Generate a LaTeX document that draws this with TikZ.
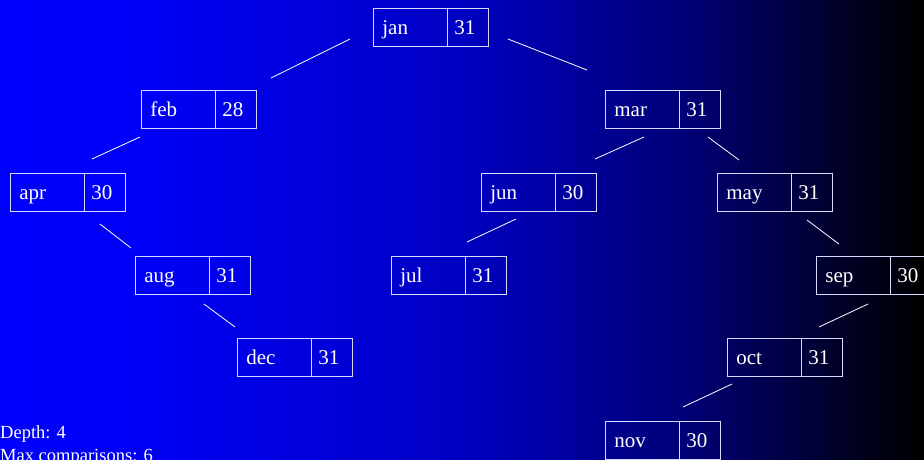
\documentclass[tikz,border=0pt]{standalone}
\usepackage{fontspec}
\setmainfont{Liberation Serif}

% Blue-to-black background; the path is mapped onto 25bp..75bp
\pgfdeclarehorizontalshading{bluefade}{100bp}{%
  rgb(0bp)=(0,0,1);
  rgb(25bp)=(0,0,1);
  rgb(32.5bp)=(0,0,0.97);
  rgb(50bp)=(0,0,0.76);
  rgb(62.5bp)=(0,0,0.45);
  rgb(71.5bp)=(0,0,0.12);
  rgb(75bp)=(0,0,0);
  rgb(100bp)=(0,0,0)}

\tikzset{
  cell/.style={draw=white!85!blue, line width=0.8pt, text=white,
    anchor=north west, minimum height=38pt, inner ysep=0pt,
    text height=14pt, text depth=0pt, align=left,
    font=\fontsize{21}{24}\selectfont},
  keycell/.style={cell, inner xsep=9pt, text width=56pt},
  valcell/.style={cell, inner xsep=7pt, text width=27pt},
  edge/.style={draw=white, line width=0.8pt},
  info/.style={text=white, anchor=base west, inner sep=0pt,
    font=\fontsize{18.5}{22}\selectfont}
}

\begin{document}
\begin{tikzpicture}[x=1pt,y=-1pt]
  \useasboundingbox (0,0) rectangle (924,459);
  \clip (0,0) rectangle (924,459);
  \shade[shading=bluefade] (0,0) rectangle (924,459);

  % month boxes: name cell and day-count cell
  \node[keycell] (jan) at (373,8)   {jan};
  \node[valcell] (janv) at (447,8)  {31};
  \node[keycell] (feb) at (141,90)  {feb};
  \node[valcell] (febv) at (215,90) {28};
  \node[keycell] (mar) at (605,90)  {mar};
  \node[valcell] (marv) at (679,90) {31};
  \node[keycell] (apr) at (10,173)  {apr};
  \node[valcell] (aprv) at (84,173) {30};
  \node[keycell] (jun) at (481,173) {jun};
  \node[valcell] (junv) at (555,173) {30};
  \node[keycell] (may) at (717,173) {may};
  \node[valcell] (mayv) at (791,173) {31};
  \node[keycell] (aug) at (135,256) {aug};
  \node[valcell] (augv) at (209,256) {31};
  \node[keycell] (jul) at (391,256) {jul};
  \node[valcell] (julv) at (465,256) {31};
  \node[keycell] (sep) at (816,256) {sep};
  \node[valcell] (sepv) at (890,256) {30};
  \node[keycell] (dec) at (237,338) {dec};
  \node[valcell] (decv) at (311,338) {31};
  \node[keycell] (oct) at (727,338) {oct};
  \node[valcell] (octv) at (801,338) {31};
  \node[keycell] (nov) at (605,421) {nov};
  \node[valcell] (novv) at (679,421) {30};

  % end points of the tree links
  \coordinate (jan-l) at (350,39);  \coordinate (feb-t) at (271,78);
  \coordinate (jan-r) at (508,39);  \coordinate (mar-t) at (587,70);
  \coordinate (feb-l) at (140,137); \coordinate (apr-t) at (92,159);
  \coordinate (mar-l) at (644,137); \coordinate (jun-t) at (595,159);
  \coordinate (mar-r) at (708,137); \coordinate (may-t) at (739,160);
  \coordinate (apr-r) at (100,224); \coordinate (aug-t) at (131,248);
  \coordinate (jun-l) at (516,219); \coordinate (jul-t) at (467,242);
  \coordinate (may-r) at (807,220); \coordinate (sep-t) at (839,244);
  \coordinate (aug-r) at (204,304); \coordinate (dec-t) at (235,327);
  \coordinate (sep-l) at (868,304); \coordinate (oct-t) at (819,327);
  \coordinate (oct-l) at (732,384); \coordinate (nov-t) at (683,407);

  \draw[edge] (jan-l) -- (feb-t);
  \draw[edge] (jan-r) -- (mar-t);
  \draw[edge] (feb-l) -- (apr-t);
  \draw[edge] (mar-l) -- (jun-t);
  \draw[edge] (mar-r) -- (may-t);
  \draw[edge] (apr-r) -- (aug-t);
  \draw[edge] (jun-l) -- (jul-t);
  \draw[edge] (may-r) -- (sep-t);
  \draw[edge] (aug-r) -- (dec-t);
  \draw[edge] (sep-l) -- (oct-t);
  \draw[edge] (oct-l) -- (nov-t);

  % statistics
  \node[info] (depth) at (0,438) {Depth: 4};
  \node[info] (cmp) at (0,461) {Max comparisons: 6};
\end{tikzpicture}
\end{document}
